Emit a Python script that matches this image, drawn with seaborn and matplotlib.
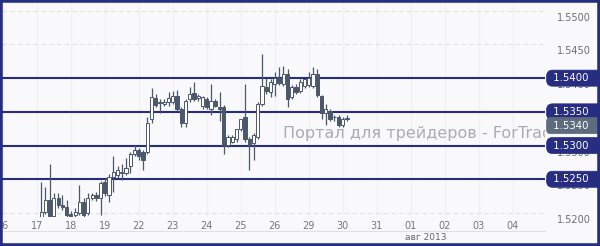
import numpy as np
import pandas as pd
import matplotlib
matplotlib.use("Agg")
import matplotlib.pyplot as plt
import matplotlib.transforms as mtransforms
from matplotlib.patches import Rectangle
import seaborn as sns

# ---------------- data ----------------
day_labels = ['16', '17', '18', '19', '22', '23', '24', '25', '26', '29', '30',
              '31', '01', '02', '03', '04']
month_label = 'авг 2013'

opens = [1.5192, 1.5201, 1.5219, 1.5195, 1.5222, 1.5212, 1.5209, 1.5198, 1.5197, 1.5200,
         1.5216, 1.5200, 1.5222, 1.5227, 1.5222, 1.5246, 1.5227, 1.5254, 1.5257, 1.5260,
         1.5260, 1.5269, 1.5287, 1.5294, 1.5291, 1.5291, 1.5339, 1.5370, 1.5363, 1.5361,
         1.5364, 1.5364, 1.5373, 1.5354, 1.5334, 1.5369, 1.5378, 1.5370, 1.5358, 1.5369,
         1.5354, 1.5366, 1.5357, 1.5357, 1.5301, 1.5306, 1.5309, 1.5324, 1.5342, 1.5309,
         1.5304, 1.5312, 1.5361, 1.5387, 1.5379, 1.5391, 1.5400, 1.5391, 1.5406, 1.5372,
         1.5387, 1.5381, 1.5388, 1.5390, 1.5388, 1.5406, 1.5373, 1.5348, 1.5351, 1.5342,
         1.5342, 1.5330, 1.5340]
highs = [1.5246, 1.5239, 1.5272, 1.5230, 1.5230, 1.5227, 1.5219, 1.5203, 1.5207, 1.5242,
         1.5222, 1.5230, 1.5230, 1.5231, 1.5248, 1.5252, 1.5258, 1.5284, 1.5270, 1.5272,
         1.5281, 1.5290, 1.5301, 1.5297, 1.5294, 1.5342, 1.5385, 1.5376, 1.5369, 1.5369,
         1.5379, 1.5381, 1.5382, 1.5357, 1.5369, 1.5387, 1.5394, 1.5376, 1.5373, 1.5372,
         1.5391, 1.5369, 1.5379, 1.5360, 1.5316, 1.5316, 1.5324, 1.5340, 1.5391, 1.5312,
         1.5319, 1.5364, 1.5436, 1.5400, 1.5399, 1.5409, 1.5416, 1.5418, 1.5413, 1.5390,
         1.5391, 1.5399, 1.5399, 1.5409, 1.5416, 1.5413, 1.5375, 1.5361, 1.5354, 1.5345,
         1.5345, 1.5343, 1.5345]
lows = [1.5189, 1.5198, 1.5189, 1.5189, 1.5207, 1.5204, 1.5194, 1.5191, 1.5192, 1.5197,
        1.5194, 1.5197, 1.5219, 1.5218, 1.5197, 1.5225, 1.5216, 1.5231, 1.5252, 1.5249,
        1.5257, 1.5260, 1.5284, 1.5279, 1.5264, 1.5287, 1.5334, 1.5357, 1.5349, 1.5358,
        1.5358, 1.5361, 1.5351, 1.5328, 1.5327, 1.5364, 1.5366, 1.5366, 1.5354, 1.5354,
        1.5346, 1.5357, 1.5336, 1.5287, 1.5298, 1.5304, 1.5306, 1.5321, 1.5306, 1.5264,
        1.5279, 1.5309, 1.5358, 1.5376, 1.5372, 1.5373, 1.5390, 1.5388, 1.5357, 1.5369,
        1.5376, 1.5378, 1.5385, 1.5387, 1.5385, 1.5372, 1.5339, 1.5331, 1.5337, 1.5337,
        1.5328, 1.5327, 1.5337]
closes = [1.5201, 1.5219, 1.5195, 1.5222, 1.5212, 1.5209, 1.5197, 1.5195, 1.5201, 1.5216,
          1.5197, 1.5222, 1.5227, 1.5222, 1.5245, 1.5230, 1.5254, 1.5261, 1.5264, 1.5261,
          1.5267, 1.5287, 1.5294, 1.5284, 1.5279, 1.5334, 1.5372, 1.5360, 1.5364, 1.5364,
          1.5370, 1.5373, 1.5354, 1.5334, 1.5366, 1.5376, 1.5369, 1.5373, 1.5372, 1.5357,
          1.5366, 1.5358, 1.5354, 1.5301, 1.5313, 1.5313, 1.5324, 1.5340, 1.5309, 1.5301,
          1.5316, 1.5361, 1.5388, 1.5381, 1.5394, 1.5400, 1.5393, 1.5406, 1.5369, 1.5387,
          1.5379, 1.5394, 1.5399, 1.5400, 1.5406, 1.5375, 1.5349, 1.5354, 1.5339, 1.5342,
          1.5331, 1.5339, 1.5340]

level_lines = [1.5400, 1.5350, 1.5300, 1.5250]
axis_prices = [1.5200, 1.5250, 1.5300, 1.5350, 1.5400, 1.5450, 1.5500]
last_price = 1.5340
watermark = 'Портал для трейдеров - ForTrader.ru'

# ---------------- styling ----------------
sns.set_theme(style='white')
plt.rcParams['font.family'] = ['DejaVu Sans']

NAVY = '#272d80'
CANDLE = '#4b586b'
BG = '#f9f9fb'

df = pd.DataFrame({'open': opens, 'high': highs, 'low': lows, 'close': closes})
df['idx'] = np.arange(len(df))
df['bull'] = df['close'] >= df['open']
df['bottom'] = df[['open', 'close']].min(axis=1)
df['height'] = (df['close'] - df['open']).abs().clip(lower=0.00004)

fig = plt.figure(figsize=(6, 2.46), dpi=100, facecolor=BG)
ax = fig.add_axes([2 / 600, 29 / 246, 543 / 600, 215 / 246])
ax.set_facecolor(BG)

# day ticks: 8 three-hour candles per trading day
tick_pos = [8 * d - 9 for d in range(len(day_labels))]
ax.set_xlim(-9.2, 118.6)
ax.set_ylim(1.5194, 1.5513)

# faint vertical grid
ax.vlines(tick_pos, 1.5194, 1.5513, color='#f1f1f5', lw=1, zorder=0)
# dashed horizontal grid
for p in axis_prices:
    ax.axhline(p, color='#e4e4dc', lw=0.8, ls=(0, (4, 3)), zorder=0.5)

# watermark
ax.text(0.5175, 0.39, watermark, transform=ax.transAxes, fontsize=11.5,
        color='#acacac', va='center', ha='left', zorder=1, clip_on=True)

# level lines
for lv in level_lines:
    ax.axhline(lv, color=NAVY, lw=1.5, zorder=2)

# candles
ax.vlines(df['idx'], df['low'], df['high'], color=CANDLE, lw=0.9, zorder=3)
face = np.where(df['bull'], '#ffffff', CANDLE)
ax.bar(df['idx'], df['height'], bottom=df['bottom'], width=0.74,
       color=face, edgecolor=CANDLE, linewidth=0.7, zorder=4)

for s in ax.spines.values():
    s.set_visible(False)
ax.set_yticks([])
ax.set_xticks(tick_pos)
ax.set_xticklabels(day_labels, fontsize=7, color='#777777')
ax.tick_params(axis='x', length=0, pad=3)

# right-hand price labels
trans = mtransforms.blended_transform_factory(ax.transAxes, ax.transData)
trans_lab = mtransforms.offset_copy(trans, fig=fig, x=0, y=-7, units='dots')
for p in axis_prices:
    ax.text(1.0221, p, f'{p:.4f}', transform=trans_lab, fontsize=7,
            color='#6e6e6e', ha='left', va='center', clip_on=False, zorder=5)

for lv in level_lines:
    ax.text(1.0085, lv, f' {lv:.4f}      ', transform=trans, fontsize=7.3,
            color='white', ha='left', va='center', clip_on=False, zorder=6,
            bbox=dict(boxstyle='round,pad=0.3,rounding_size=0.6', fc=NAVY,
                      ec=NAVY, lw=0.5))

trans_last = mtransforms.offset_copy(trans, fig=fig, x=0, y=-7, units='dots')
ax.text(1.0085, last_price, f' {last_price:.4f}      ', transform=trans_last,
        fontsize=7.3, color='white', ha='left', va='center', clip_on=False,
        zorder=7, bbox=dict(boxstyle='round,pad=0.3,rounding_size=0.4',
                            fc='#5e6b7c', ec='#5e6b7c', lw=0.5))

# bottom separator and month label
fig.add_artist(plt.Line2D([2 / 600, 545 / 600], [1 - 231 / 246, 1 - 231 / 246],
                          transform=fig.transFigure, color='#e0e0e6', lw=0.8))
fig.text(405 / 600, 1 - 238 / 246, month_label, fontsize=6.5, color='#666666',
         ha='left', va='center')

# outer frame
fig.add_artist(Rectangle((0, 0), 1, 1, transform=fig.transFigure, fill=False,
                         edgecolor=NAVY, lw=4, zorder=10))

fig.savefig('out.png', dpi=100, facecolor=fig.get_facecolor())
